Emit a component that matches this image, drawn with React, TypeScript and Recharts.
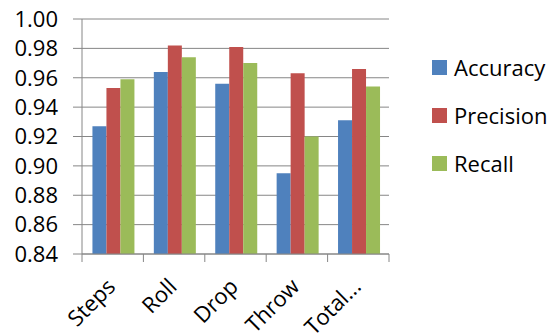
import { Bar, BarChart, CartesianGrid, Legend, XAxis, YAxis } from "recharts";

const categories = ["Steps", "Roll", "Drop", "Throw", "Total..."];
const accuracy = [0.927, 0.964, 0.956, 0.895, 0.931];
const precision = [0.953, 0.982, 0.981, 0.963, 0.966];
const recall = [0.959, 0.974, 0.970, 0.920, 0.954];
const yTicks = [0.84, 0.86, 0.88, 0.9, 0.92, 0.94, 0.96, 0.98, 1.0];

const data = categories.map((name, i) => ({
  name,
  Accuracy: accuracy[i],
  Precision: precision[i],
  Recall: recall[i],
}));

const W = 552;
const H = 336;
const M = { top: 19, right: 163, bottom: 0, left: 0 };
const Y_W = 82;
const X_H = 82;
const FONT = "'Open Sans', sans-serif";
const AXIS = "#868686";
const band = (W - M.right - Y_W) / categories.length;

function XTick(props: any) {
  const { x, y, payload, index } = props;
  const half = band / 2;
  const tx = x + 4;
  const ty = y + 34;
  return (
    <g>
      <line x1={x - half} x2={x - half} y1={y} y2={y + 8} stroke={AXIS} />
      {index === categories.length - 1 && (
        <line x1={x + half} x2={x + half} y1={y} y2={y + 8} stroke={AXIS} />
      )}
      <text
        x={tx}
        y={ty}
        textAnchor="end"
        transform={`rotate(-45, ${tx}, ${ty})`}
        fontFamily={FONT}
        fontSize={22}
        fill="#000"
      >
        {payload.value}
      </text>
    </g>
  );
}

function LegendBox(props: any) {
  const items = props.payload || [];
  return (
    <div style={{ fontFamily: FONT, fontSize: 22, color: "#000" }}>
      {items.map((it: any) => (
        <div
          key={it.value}
          style={{ display: "flex", alignItems: "center", height: 48 }}
        >
          <span
            style={{
              width: 15,
              height: 15,
              background: it.color,
              marginRight: 7,
              display: "inline-block",
            }}
          />
          <span>{it.value}</span>
        </div>
      ))}
    </div>
  );
}

export default function App() {
  return (
    <div style={{ position: "absolute", left: 0, top: 0 }}>
      <BarChart
        width={W}
        height={H}
        data={data}
        margin={M}
        barCategoryGap="17%"
        barGap={0}
      >
        <CartesianGrid vertical={false} stroke={AXIS} />
        <XAxis
          dataKey="name"
          height={X_H}
          stroke={AXIS}
          tickLine={false}
          tickSize={0}
          tickMargin={0}
          interval={0}
          tick={<XTick />}
        />
        <YAxis
          width={Y_W}
          domain={[0.84, 1.0]}
          ticks={yTicks}
          interval={0}
          allowDataOverflow
          stroke={AXIS}
          tickSize={9}
          tickMargin={15}
          tickFormatter={(v: number) => v.toFixed(2)}
          tick={{ fill: "#000", fontSize: 22, fontFamily: FONT }}
        />
        <Legend
          layout="vertical"
          align="center"
          verticalAlign="middle"
          content={<LegendBox />}
          wrapperStyle={{ left: 432, top: 43, width: 120 }}
        />
        <Bar dataKey="Accuracy" fill="#4F81BD" isAnimationActive={false} />
        <Bar dataKey="Precision" fill="#C0504D" isAnimationActive={false} />
        <Bar dataKey="Recall" fill="#9BBB59" isAnimationActive={false} />
      </BarChart>
    </div>
  );
}
